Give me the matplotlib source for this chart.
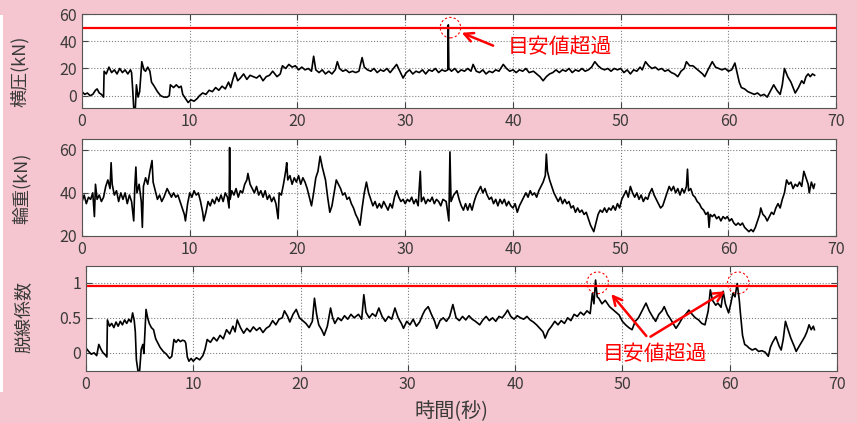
import numpy as np
import matplotlib
matplotlib.use("Agg")
import matplotlib.pyplot as plt
from matplotlib.patches import Ellipse, Rectangle

plt.rcParams['font.family'] = ['Noto Sans CJK JP', 'DejaVu Sans']

# 横圧 (kN)  (time s, value)
lateral = [(0,3),(0.25,1),(0.5,2),(0.75,0),(1.0,1),(1.25,4),(1.4,5),(1.6,2),(1.8,1),(2.0,-1),(2.05,18),
    (2.25,16),(2.5,21),(2.75,17),(3.0,19),(3.25,16),(3.5,20),(3.75,17),(4.0,19),(4.25,16),(4.5,19),(4.6,17),
    (4.7,5),(4.8,-9),(4.95,-9),(5.05,8),(5.2,-1),(5.35,3),(5.55,25),(5.75,19),(5.9,18),(6.1,21),(6.3,18),
    (6.45,10),(6.7,7),(7.0,3),(7.3,0),(7.6,-1),(7.9,-1),(8.1,0),(8.2,8),(8.5,6),(8.75,8),(9.0,6),(9.2,7),
    (9.35,1),(9.6,-2),(9.85,-5),(10.1,-3),(10.4,-4),(10.7,-2),(10.9,0),(11.2,2),(11.5,1),(11.8,4),(12.1,3),
    (12.4,6),(12.7,4),(13.0,7),(13.3,5),(13.6,10),(13.8,6),(14.0,12),(14.2,17),(14.45,11),(14.7,13),(15.0,16),
    (15.3,12),(15.6,15),(15.9,14),(16.2,13),(16.5,15),(16.8,11),(17.1,14),(17.4,15),(17.7,18),(17.9,16),
    (18.1,14),(18.4,16),(18.6,22),(18.9,20),(19.2,23),(19.5,21),(19.8,22),(20.1,19),(20.4,21),(20.7,19),
    (21.0,20),(21.3,18),(21.5,29),(21.7,19),(22.0,17),(22.3,19),(22.6,16),(22.9,18),(23.2,16),(23.5,19),
    (23.7,25),(23.9,20),(24.2,18),(24.5,19),(24.8,17),(25.1,18),(25.4,17),(25.7,18),(26.0,28),(26.2,21),
    (26.5,19),(26.8,18),(27.1,20),(27.4,17),(27.7,19),(28.0,18),(28.3,20),(28.6,17),(28.9,20),(29.2,23),
    (29.5,18),(29.8,13),(30.1,17),(30.4,19),(30.7,16),(31.0,18),(31.3,17),(31.6,19),(31.9,16),(32.2,19),
    (32.5,18),(32.8,20),(33.1,17),(33.4,19),(33.7,18),(33.95,19),(34.0,52),(34.05,20),(34.3,18),(34.6,20),
    (34.9,17),(35.2,19),(35.5,18),(35.8,20),(36.1,18),(36.3,23),(36.6,18),(36.9,17),(37.2,19),(37.5,16),
    (37.8,18),(38.1,17),(38.4,19),(38.7,18),(39.1,23),(39.4,20),(39.7,18),(40.0,19),(40.3,17),(40.6,19),
    (40.9,18),(41.2,20),(41.5,17),(41.9,18),(42.2,16),(42.5,14),(42.8,11),(43.1,14),(43.4,16),(43.7,17),
    (44.0,19),(44.3,17),(44.6,19),(44.9,18),(45.2,20),(45.5,17),(45.8,19),(46.1,18),(46.4,20),(46.7,18),
    (47.0,19),(47.3,21),(47.6,25),(47.9,22),(48.2,20),(48.5,19),(48.8,20),(49.1,18),(49.4,20),(49.7,19),
    (50.0,20),(50.3,17),(50.6,19),(50.9,16),(51.2,19),(51.5,18),(51.8,21),(52.0,19),(52.3,25),(52.6,22),
    (52.9,20),(53.2,21),(53.5,19),(53.8,20),(54.1,18),(54.4,19),(54.7,17),(55.0,16),(55.3,14),(55.6,18),
    (55.9,20),(56.1,25),(56.4,22),(56.7,22),(57.0,20),(57.3,18),(57.6,16),(57.8,14),(58.1,19),(58.5,25),
    (58.8,21),(59.1,20),(59.4,19),(59.7,20),(60.0,18),(60.3,19),(60.6,24),(60.8,17),(61.0,10),(61.2,6),
    (61.5,5),(61.8,3),(62.1,2),(62.4,1),(62.7,2),(63.0,0),(63.3,1),(63.6,-1),(63.8,2),(64.0,5),(64.2,8),
    (64.5,4),(64.8,1),(65.0,8),(65.2,20),(65.5,14),(65.8,10),(66.0,6),(66.2,2),(66.5,6),(66.8,11),(67.0,9),
    (67.2,14),(67.4,16),(67.6,14),(67.8,16),(68.0,15)]

# 輪重 (kN)
wheel = [(0,36),(0.2,39),(0.4,35),(0.6,38),(0.8,37),(1.0,40),(1.15,29),(1.25,44),(1.4,37),(1.6,39),(1.8,36),
    (2.0,38),(2.2,43),(2.4,46),(2.6,42),(2.7,54),(2.8,44),(3.0,39),(3.2,41),(3.4,36),(3.6,40),(3.8,37),(4.0,40),
    (4.2,35),(4.4,39),(4.6,36),(4.8,27),(4.9,43),(5.0,52),(5.1,40),(5.3,44),(5.5,36),(5.6,24),(5.7,43),(5.9,47),
    (6.1,44),(6.3,50),(6.5,55),(6.6,45),(6.8,41),(7.0,37),(7.2,39),(7.4,36),(7.6,38),(7.9,42),(8.1,40),(8.3,38),
    (8.5,40),(8.7,38),(8.9,39),(9.1,36),(9.3,33),(9.5,30),(9.6,27),(9.8,35),(10.0,40),(10.2,38),(10.4,41),
    (10.6,39),(10.8,40),(11.0,36),(11.2,31),(11.3,27),(11.5,31),(11.7,36),(11.9,34),(12.1,37),(12.3,35),
    (12.5,38),(12.7,36),(12.9,39),(13.1,36),(13.3,40),(13.5,38),(13.65,33),(13.7,61),(13.75,37),(13.9,41),
    (14.1,39),(14.3,42),(14.5,38),(14.7,41),(14.9,40),(15.1,44),(15.3,46),(15.4,49),(15.6,44),(15.8,42),
    (16.0,40),(16.2,43),(16.4,39),(16.6,41),(16.8,38),(17.0,41),(17.2,37),(17.4,39),(17.6,36),(17.8,38),
    (18.0,35),(18.2,28),(18.3,40),(18.5,39),(18.7,44),(18.9,50),(19.0,54),(19.1,46),(19.3,48),(19.5,44),
    (19.7,47),(19.9,45),(20.1,48),(20.3,44),(20.5,47),(20.7,45),(20.9,42),(21.1,38),(21.3,34),(21.5,40),
    (21.7,47),(21.9,50),(22.1,57),(22.3,52),(22.5,48),(22.6,46),(22.8,38),(23.0,31),(23.2,34),(23.4,40),
    (23.6,46),(23.8,44),(24.0,42),(24.2,39),(24.4,40),(24.6,37),(24.8,38),(25.0,35),(25.2,33),(25.4,30),
    (25.6,28),(25.8,25),(26.0,33),(26.2,40),(26.4,45),(26.6,40),(26.8,37),(27.0,34),(27.2,36),(27.4,33),
    (27.6,35),(27.8,33),(28.0,36),(28.2,34),(28.4,32),(28.6,35),(28.8,33),(29.0,38),(29.2,41),(29.4,38),
    (29.6,36),(29.8,37),(30.0,35),(30.2,37),(30.4,36),(30.6,38),(30.8,35),(31.0,37),(31.2,34),(31.4,50),
    (31.5,36),(31.7,38),(31.9,35),(32.1,37),(32.3,36),(32.5,38),(32.7,35),(32.9,37),(33.1,36),(33.3,34),
    (33.5,37),(33.8,36),(34.05,27),(34.15,59),(34.25,36),(34.5,39),(34.8,41),(35.0,37),(35.2,34),(35.4,32),
    (35.6,35),(35.8,32),(36.0,35),(36.2,32),(36.4,36),(36.6,39),(36.8,41),(37.0,43),(37.2,40),(37.4,42),
    (37.6,39),(37.8,37),(38.0,38),(38.2,35),(38.4,37),(38.6,34),(38.8,37),(39.0,35),(39.2,37),(39.4,34),
    (39.6,36),(39.8,34),(40.0,33),(40.2,35),(40.4,31),(40.6,34),(40.8,36),(41.0,38),(41.2,40),(41.4,38),
    (41.6,41),(41.8,39),(42.0,40),(42.2,38),(42.4,41),(42.6,43),(42.8,45),(43.0,48),(43.1,58),(43.2,50),
    (43.4,46),(43.6,43),(43.8,40),(44.0,38),(44.2,36),(44.4,38),(44.6,35),(44.8,37),(45.0,35),(45.2,36),
    (45.4,33),(45.6,34),(45.8,31),(46.0,33),(46.2,31),(46.4,32),(46.6,30),(46.8,31),(47.0,28),(47.2,25),
    (47.5,22),(47.7,26),(47.9,30),(48.1,32),(48.3,31),(48.5,33),(48.7,31),(48.9,33),(49.1,32),(49.3,34),
    (49.5,32),(49.7,35),(49.9,33),(50.1,37),(50.3,39),(50.5,41),(50.7,38),(50.9,43),(51.1,40),(51.3,38),
    (51.5,40),(51.7,37),(51.9,39),(52.1,36),(52.3,38),(52.5,37),(52.7,40),(52.9,42),(53.1,39),(53.3,37),
    (53.5,35),(53.7,33),(53.9,34),(54.1,37),(54.3,40),(54.5,43),(54.7,41),(54.9,43),(55.1,40),(55.3,42),
    (55.5,39),(55.7,42),(55.9,40),(56.1,43),(56.2,51),(56.3,41),(56.5,42),(56.7,39),(56.9,38),(57.1,36),
    (57.3,35),(57.5,33),(57.7,32),(57.9,30),(58.1,31),(58.2,24),(58.3,30),(58.5,29),(58.7,30),(58.9,28),
    (59.1,29),(59.3,27),(59.5,29),(59.7,28),(59.9,29),(60.1,27),(60.3,28),(60.5,26),(60.7,25),(60.9,26),
    (61.1,25),(61.3,26),(61.5,24),(61.7,23),(61.9,22),(62.1,23),(62.3,22),(62.5,24),(62.7,27),(62.9,30),
    (63.0,33),(63.2,30),(63.4,29),(63.6,27),(63.8,29),(64.0,31),(64.2,30),(64.4,33),(64.6,35),(64.8,33),
    (65.0,37),(65.2,40),(65.4,46),(65.6,44),(65.8,45),(66.0,42),(66.2,44),(66.4,43),(66.6,45),(66.8,43),
    (67.0,50),(67.2,47),(67.4,44),(67.5,40),(67.7,45),(67.9,42),(68.0,44)]

# 脱線係数
derail = [(0,0.07),(0.25,0.02),(0.5,-0.02),(0.75,0.0),(1.0,-0.04),(1.2,0.12),(1.4,0.05),(1.6,0.0),(1.8,-0.03),
    (1.95,-0.06),(2.0,0.47),(2.2,0.38),(2.4,0.42),(2.6,0.36),(2.8,0.44),(3.0,0.38),(3.2,0.45),(3.4,0.40),
    (3.6,0.47),(3.8,0.42),(4.0,0.48),(4.2,0.44),(4.35,0.57),(4.5,0.46),(4.6,0.3),(4.7,-0.1),(4.85,-0.26),
    (5.0,-0.26),(5.15,0.05),(5.3,0.12),(5.4,-0.01),(5.6,0.62),(5.75,0.5),(5.9,0.42),(6.1,0.36),(6.3,0.33),
    (6.5,0.2),(6.7,0.14),(6.9,0.08),(7.2,0.02),(7.5,-0.02),(7.8,-0.08),(8.0,-0.05),(8.2,0.19),(8.4,0.15),
    (8.6,0.19),(8.8,0.16),(9.0,0.18),(9.2,0.17),(9.3,0.14),(9.45,-0.06),(9.6,-0.12),(9.8,-0.08),(10.0,-0.12),
    (10.3,-0.07),(10.6,-0.1),(10.9,-0.04),(11.1,0.05),(11.3,0.19),(11.6,0.15),(11.9,0.22),(12.2,0.17),
    (12.5,0.25),(12.8,0.2),(13.1,0.33),(13.4,0.27),(13.7,0.38),(13.9,0.30),(14.1,0.47),(14.4,0.36),(14.7,0.28),
    (15.0,0.35),(15.3,0.30),(15.6,0.37),(15.9,0.32),(16.2,0.36),(16.5,0.29),(16.8,0.35),(17.1,0.38),(17.4,0.46),
    (17.7,0.40),(18.0,0.48),(18.3,0.50),(18.5,0.60),(18.8,0.52),(19.0,0.44),(19.3,0.55),(19.6,0.62),(19.9,0.50),
    (20.2,0.46),(20.5,0.42),(20.8,0.36),(21.1,0.45),(21.3,0.78),(21.5,0.55),(21.7,0.40),(22.0,0.32),(22.2,0.25),
    (22.5,0.38),(22.8,0.64),(23.0,0.50),(23.2,0.42),(23.5,0.50),(23.8,0.46),(24.1,0.53),(24.4,0.48),(24.7,0.55),
    (25.0,0.50),(25.4,0.55),(25.7,0.48),(25.9,0.83),(26.1,0.58),(26.4,0.50),(26.7,0.56),(27.0,0.52),(27.3,0.64),
    (27.6,0.52),(27.9,0.45),(28.2,0.52),(28.5,0.48),(28.8,0.64),(29.1,0.50),(29.4,0.42),(29.6,0.35),(29.9,0.45),
    (30.2,0.40),(30.5,0.48),(30.8,0.38),(31.1,0.44),(31.4,0.55),(31.6,0.61),(31.9,0.66),(32.2,0.55),(32.5,0.45),
    (32.7,0.35),(33.0,0.46),(33.3,0.50),(33.6,0.45),(33.9,0.52),(34.2,0.69),(34.5,0.50),(34.8,0.46),(35.1,0.52),
    (35.4,0.47),(35.7,0.53),(36.0,0.48),(36.3,0.45),(36.7,0.40),(37.0,0.47),(37.3,0.52),(37.6,0.46),(37.9,0.50),
    (38.2,0.45),(38.5,0.52),(38.8,0.50),(39.1,0.56),(39.3,0.61),(39.6,0.52),(39.9,0.48),(40.2,0.53),(40.5,0.50),
    (40.8,0.48),(41.1,0.52),(41.4,0.47),(41.7,0.44),(42.0,0.40),(42.3,0.35),(42.6,0.30),(42.8,0.21),(43.1,0.32),
    (43.4,0.38),(43.7,0.45),(44.0,0.40),(44.3,0.46),(44.6,0.42),(44.9,0.50),(45.2,0.46),(45.5,0.55),(45.8,0.52),
    (46.1,0.58),(46.4,0.54),(46.7,0.60),(47.0,0.56),(47.2,0.85),(47.35,0.70),(47.5,1.04),(47.65,0.80),(47.8,0.78),
    (48.1,0.70),(48.4,0.75),(48.8,0.66),(49.1,0.62),(49.4,0.58),(49.7,0.54),(50.0,0.45),(50.3,0.40),(50.6,0.36),
    (50.9,0.33),(51.2,0.45),(51.5,0.50),(51.9,0.62),(52.2,0.71),(52.5,0.60),(52.8,0.52),(53.1,0.45),(53.4,0.55),
    (53.7,0.60),(53.9,0.66),(54.2,0.55),(54.5,0.48),(54.8,0.40),(55.0,0.35),(55.3,0.42),(55.6,0.50),(55.9,0.55),
    (56.2,0.61),(56.5,0.55),(56.8,0.50),(57.1,0.47),(57.4,0.42),(57.7,0.40),(58.0,0.60),(58.2,0.90),(58.4,0.75),
    (58.7,0.68),(58.9,0.71),(59.2,0.65),(59.4,0.88),(59.6,0.70),(59.9,0.57),(60.1,0.70),(60.3,0.85),(60.5,0.80),
    (60.7,0.99),(60.9,0.75),(61.0,0.57),(61.2,0.25),(61.4,0.12),(61.6,0.10),(61.8,0.07),(62.1,0.04),(62.4,0.06),
    (62.7,0.02),(63.0,0.03),(63.3,0.01),(63.6,-0.05),(63.8,0.08),(64.0,0.15),(64.3,0.23),(64.6,0.10),(64.8,0.04),
    (65.0,0.20),(65.2,0.45),(65.4,0.35),(65.7,0.21),(66.0,0.10),(66.2,0.02),(66.5,0.10),(67.0,0.23),(67.2,0.30),
    (67.4,0.40),(67.6,0.33),(67.8,0.38),(67.9,0.33)]

lat_limit = 50
derail_limit = 0.95
ylabels = ['横圧(kN)', '輪重(kN)', '脱線係数']
note = '目安値超過'

pink = '#f5c6cf'
red = '#ff0000'

fig = plt.figure(figsize=(8.57, 4.23), dpi=100, facecolor=pink)
fig.patches.append(Rectangle((0, 0.073), 0.004, 0.892, transform=fig.transFigure,
                             facecolor='white', edgecolor='none'))

ax1 = fig.add_axes([0.0957, 0.7447, 0.880, 0.2222])
ax2 = fig.add_axes([0.0957, 0.4421, 0.880, 0.2293])
ax3 = fig.add_axes([0.1003, 0.1229, 0.8763, 0.2482])

for ax, data in zip([ax1, ax2, ax3], [lateral, wheel, derail]):
    t, v = np.array(data).T
    ax.plot(t, v, color='black', lw=1.2)
    ax.set_xlim(0, 70)
    ax.set_xticks(range(0, 71, 10))
    ax.grid(True, ls=':', color='#808080', lw=0.8)
    ax.tick_params(direction='in', top=True, right=True, length=4,
                   labelsize=11.5, labelcolor='#3a3a3a', color='#444444')
    for s in ax.spines.values():
        s.set_color('#555555')

ax1.set_ylim(-9, 60)
ax1.set_yticks([0, 20, 40, 60])
ax2.set_ylim(20, 65)
ax2.set_yticks([20, 40, 60])
ax3.set_ylim(-0.26, 1.24)
ax3.set_yticks([0, 0.5, 1])
ax3.set_yticklabels(['0', '0.5', '1'])

ax1.axhline(lat_limit, color=red, lw=1.6)
ax3.axhline(derail_limit, color=red, lw=1.6)

# label anchors: right edge of the rotated text
lx = [29 / 857, 31 / 857, 34 / 857]
ly = [1 - 71 / 423, 1 - 188 / 423, 1 - 317 / 423]
for ax, lab, x, y in zip([ax1, ax2, ax3], ylabels, lx, ly):
    ax.set_ylabel(lab, fontsize=13, color='#3a3a3a')
    ax.yaxis.set_label_coords(x, y, transform=fig.transFigure)

fig.text(451 / 857, 1 - 412 / 423, '時間(秒)', fontsize=14.5, color='#3a3a3a',
         ha='center', va='center')

# annotations
ax1.add_patch(Ellipse((34.2, 50), 1.9, 15, fill=False, ec=red, ls=(0, (2, 2)), lw=0.8))
ax1.annotate('', xy=(35.0, 47), xytext=(38.4, 36),
             arrowprops=dict(arrowstyle='->', color=red, lw=1.8, mutation_scale=16))
ax1.text(39.5, 36, note, color=red, fontsize=15, ha='left', va='center')

for cx, hx, hy in [(47.7, 48.8, 0.87), (60.8, 59.8, 0.90)]:
    ax3.add_patch(Ellipse((cx, 1.0), 2.0, 0.31, fill=False, ec=red, ls=(0, (2, 2)), lw=0.8))
    ax3.annotate('', xy=(hx, hy), xytext=(52.4, 0.21),
                 arrowprops=dict(arrowstyle='->', color=red, lw=1.8, mutation_scale=16))
ax3.text(53.0, -0.01, note, color=red, fontsize=15, ha='center', va='center')

fig.savefig('out.png', dpi=100, facecolor=pink)
